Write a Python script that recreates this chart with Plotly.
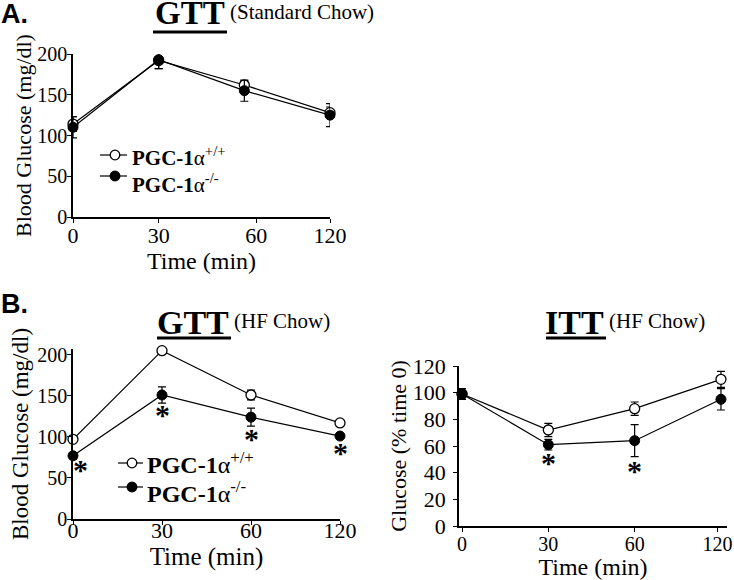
import plotly.graph_objects as go

W, H = 734, 580

# ---------------- data ----------------
time_labels = ["0", "30", "60", "120"]

# Panel A: GTT, standard chow (mg/dl)
a_wt = [114, 192, 162, 128]
a_wt_err = [9, 10, 5, 7]
a_ko = [110, 193, 155, 125]
a_ko_err = [13, 11, 13, 14]

# Panel B left: GTT, HF chow (mg/dl)
b_wt = [97, 205, 151, 117]
b_wt_err = [3, 3, 6, 3]
b_ko = [77, 151, 124, 101]
b_ko_err = [4, 10, 11, 4]
b_star_idx = [0, 1, 2, 3]
b_star_y = [63, 130, 101, 84]

# Panel B right: ITT, HF chow (% time 0)
c_wt = [99, 72, 88, 110]
c_wt_err = [4, 5, 5, 6]
c_ko = [99, 61, 64, 95]
c_ko_err = [4, 4, 12, 8]
c_star_idx = [1, 2]
c_star_y = [49, 43]

legend_wt = "<b>PGC-1</b>α<sup>+/+</sup>"
legend_ko = "<b>PGC-1</b>α<sup>-/-</sup>"

SERIF = "Liberation Serif, Times New Roman, serif"
SANS = "Liberation Sans, Arial, sans-serif"


def px(x):
    return x / W


def py(y):
    return 1 - y / H


xpos = list(range(len(time_labels)))

fig = go.Figure()


def add_pair(xa, ya, wt, wt_err, ko, ko_err):
    fig.add_trace(go.Scatter(
        x=xpos, y=wt, xaxis=xa, yaxis=ya, mode="lines+markers",
        line=dict(color="black", width=1.2),
        marker=dict(symbol="circle", size=10, color="white",
                    line=dict(color="black", width=1.3)),
        error_y=dict(type="data", array=wt_err, color="black", thickness=1.2, width=4),
        showlegend=False, cliponaxis=False))
    fig.add_trace(go.Scatter(
        x=xpos, y=ko, xaxis=xa, yaxis=ya, mode="lines+markers",
        line=dict(color="black", width=1.2),
        marker=dict(symbol="circle", size=10, color="black",
                    line=dict(color="black", width=1)),
        error_y=dict(type="data", array=ko_err, color="black", thickness=1.2, width=4),
        showlegend=False, cliponaxis=False))


add_pair("x", "y", a_wt, a_wt_err, a_ko, a_ko_err)
add_pair("x2", "y2", b_wt, b_wt_err, b_ko, b_ko_err)
add_pair("x3", "y3", c_wt, c_wt_err, c_ko, c_ko_err)

tickfont_y = dict(family=SERIF, size=20, color="black")
tickfont_x = dict(family=SERIF, size=22, color="black")
axis_common = dict(showgrid=False, zeroline=False, showline=True, linecolor="black",
                   linewidth=1.5, ticks="outside", ticklen=4, tickcolor="black",
                   tickwidth=1.2, automargin=False, ticklabeloverflow="allow")

fig.update_layout(
    template="none",
    width=W, height=H, margin=dict(l=0, r=0, t=0, b=0, autoexpand=False),
    paper_bgcolor="white", plot_bgcolor="white", showlegend=False,
    xaxis=dict(domain=[px(73), px(330)], range=[0, 3], anchor="y",
               tickvals=[0, 1, 2.14, 3], ticktext=time_labels, tickfont=tickfont_x,
               ticklabelstandoff=-6,
               title=dict(text="Time (min)", font=dict(family=SERIF, size=24, color="black"),
                          standoff=0), **axis_common),
    yaxis=dict(domain=[py(217), py(54)], range=[0, 200], anchor="x",
               tickvals=[0, 50, 100, 150, 200], tickfont=tickfont_y,
               ticklabelstandoff=-4,
               title=dict(text="Blood Glucose (mg/dl)",
                          font=dict(family=SERIF, size=22, color="black"), standoff=0),
               **axis_common),
    xaxis2=dict(domain=[px(73), px(340)], range=[0, 3], anchor="y2",
                tickvals=xpos, ticktext=time_labels, tickfont=tickfont_x,
                ticklabelstandoff=-13,
                title=dict(text="Time (min)", font=dict(family=SERIF, size=25, color="black"),
                           standoff=0), **axis_common),
    yaxis2=dict(domain=[py(519), py(349)], range=[0, 207], anchor="x2",
                tickvals=[0, 50, 100, 150, 200], tickfont=tickfont_y,
                ticklabelstandoff=-4,
                title=dict(text="Blood Glucose (mg/dl)",
                           font=dict(family=SERIF, size=23, color="black"), standoff=2),
                **axis_common),
    xaxis3=dict(domain=[px(459), px(727)], range=[-0.035, 3.07], anchor="y3",
                tickvals=[0, 1, 2, 2.96], ticktext=time_labels,
                tickfont=dict(family=SERIF, size=20, color="black"),
                ticklabelstandoff=-5,
                title=dict(text="Time (min)", font=dict(family=SERIF, size=24, color="black"),
                           standoff=3), **axis_common),
    yaxis3=dict(domain=[py(526), py(366)], range=[0, 120], anchor="x3",
                tickvals=[0, 20, 40, 60, 80, 100, 120],
                tickfont=dict(family=SERIF, size=22, color="black"),
                ticklabelstandoff=3,
                title=dict(text="Glucose (% time 0)",
                           font=dict(family=SERIF, size=22, color="black"), standoff=0),
                **axis_common),
)

ann = []
shapes = []

# panel letters
ann.append(dict(text="<b>A.</b>", x=px(-1), y=py(14), xref="paper", yref="paper",
                xanchor="left", yanchor="middle", showarrow=False,
                font=dict(family=SANS, size=27, color="black")))
ann.append(dict(text="<b>B.</b>", x=px(-1), y=py(304), xref="paper", yref="paper",
                xanchor="left", yanchor="middle", showarrow=False,
                font=dict(family=SANS, size=27, color="black")))


def title(big, small, x_right, y_mid, ul_y, ul_x0, big_fs=34):
    ann.append(dict(text="<b>%s</b>" % big, x=px(x_right), y=py(y_mid), xref="paper",
                    yref="paper", xanchor="right", yanchor="middle", showarrow=False,
                    font=dict(family=SERIF, size=big_fs, color="black")))
    ann.append(dict(text=small, x=px(x_right + 1), y=py(y_mid - 1), xref="paper",
                    yref="paper", xanchor="left", yanchor="middle", showarrow=False,
                    font=dict(family=SERIF, size=21, color="black")))
    shapes.append(dict(type="line", xref="paper", yref="paper", x0=px(ul_x0),
                       x1=px(x_right), y0=py(ul_y), y1=py(ul_y),
                       line=dict(color="black", width=3)))


title("GTT", "(Standard Chow)", 227, 13, 32, 153, big_fs=33)
title("GTT", "(HF Chow)", 231, 322, 338, 157)
title("ITT", "(HF Chow)", 606, 322, 338, 546)


def legend(x0, x1, xm, y_wt, y_ko, tx, ty_wt, ty_ko, fs):
    for yy, fill, txt, ty in [(y_wt, "white", legend_wt, ty_wt), (y_ko, "black", legend_ko, ty_ko)]:
        shapes.append(dict(type="line", xref="paper", yref="paper", x0=px(x0), x1=px(x1),
                           y0=py(yy), y1=py(yy), line=dict(color="black", width=1.2)))
        r = 4.8
        shapes.append(dict(type="circle", xref="paper", yref="paper", x0=px(xm - r),
                           x1=px(xm + r), y0=py(yy + r), y1=py(yy - r), fillcolor=fill,
                           line=dict(color="black", width=1.3)))
        ann.append(dict(text=txt, x=px(tx), y=py(ty), xref="paper", yref="paper",
                        xanchor="left", yanchor="middle", showarrow=False,
                        font=dict(family=SERIF, size=fs, color="black")))


legend(100, 127, 115, 155, 176, 130, 156, 184, 21)
legend(118, 143, 132, 463, 487, 145, 463, 492, 24)

# significance asterisks
for i, yv in zip(b_star_idx, b_star_y):
    ann.append(dict(text="<b>*</b>", x=xpos[i], y=yv, xref="x2", yref="y2",
                    xshift=7 if i == 0 else 0, yshift=-2, showarrow=False,
                    font=dict(family=SERIF, size=30, color="black")))
for i, yv in zip(c_star_idx, c_star_y):
    ann.append(dict(text="<b>*</b>", x=xpos[i], y=yv, xref="x3", yref="y3",
                    yshift=-2, showarrow=False,
                    font=dict(family=SERIF, size=30, color="black")))

fig.update_layout(annotations=ann, shapes=shapes)
fig.write_html("out.html", config={"displayModeBar": False},
               post_script="document.body.style.margin='0';document.body.style.overflow='hidden';")
